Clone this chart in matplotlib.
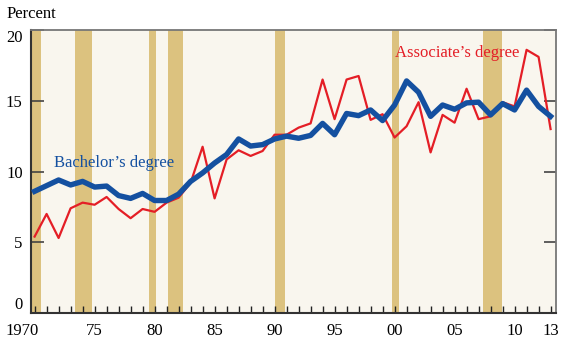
import matplotlib.pyplot as plt
from matplotlib.ticker import MultipleLocator
from matplotlib.transforms import ScaledTranslation

years = list(range(1970, 2014))

# Bachelor's degree (percent)
bachelors = [8.6, 9.0, 9.4, 9.05, 9.3, 8.9, 8.97, 8.3, 8.1, 8.45, 7.95,
             7.95, 8.4, 9.3, 9.9, 10.6, 11.2, 12.3, 11.8, 11.9, 12.3,
             12.5, 12.35, 12.55, 13.4, 12.6, 14.1, 13.95, 14.35, 13.6, 14.7,
             16.4, 15.6, 13.9, 14.7, 14.4, 14.85, 14.9, 14.0, 14.8, 14.35,
             15.75, 14.6, 13.9]

# Associate's degree (percent)
associates = [5.4, 7.0, 5.3, 7.4, 7.8, 7.65, 8.2, 7.35, 6.7, 7.35, 7.15,
              7.8, 8.15, 9.2, 11.75, 8.1, 10.85, 11.5, 11.1, 11.45, 12.6,
              12.6, 13.1, 13.4, 16.5, 13.7, 16.5, 16.75, 13.65, 14.05, 12.4,
              13.2, 14.9, 11.35, 14.0, 13.45, 15.85, 13.7, 13.9, 14.9, 14.6,
              18.6, 18.1, 13.0]

# shaded recession periods (start, end) as drawn
recessions = [(1969.6, 1970.5), (1973.4, 1974.8), (1979.5, 1980.13),
              (1981.1, 1982.36), (1990.07, 1990.83), (1999.78, 2000.39),
              (2007.37, 2008.99)]

xtick_pos = [1970, 1975, 1980, 1985, 1990, 1995, 2000, 2005, 2010, 2013]
xtick_lab = ["1970", "75", "80", "85", "90", "95", "00", "05", "10", "13"]
ytick_pos = [0, 5, 10, 15, 20]

plt.rcParams["font.family"] = ["Liberation Serif", "DejaVu Serif"]

fig = plt.figure(figsize=(5.7, 3.47), dpi=100)
ax = fig.add_axes([0.0544, 0.098, 0.921, 0.8155])
ax.set_facecolor("#f9f6ee")

for start, end in recessions:
    ax.axvspan(start, end, color="#dcc27f", lw=0, zorder=1)

ax.plot(years, associates, color="#e41e26", lw=1.6, zorder=3)
ax.plot(years, bachelors, color="#1450a0", lw=3.9, zorder=4)

ax.set_xlim(1969.7, 2013.45)
ax.set_ylim(0, 20)

ax.set_yticks(ytick_pos)
ax.set_yticklabels([str(v) for v in ytick_pos])
ax.set_xticks(xtick_pos)
ax.set_xticklabels(xtick_lab)
ax.xaxis.set_minor_locator(MultipleLocator(1))

ax.tick_params(axis="y", direction="in", length=9, width=1.2,
               color="#444444", labelsize=12, pad=6, right=True)
ax.tick_params(axis="x", which="both", direction="in", length=5, width=1,
               color="#222222", labelsize=12, pad=7)

# nudge end labels like the original
ylabels = ax.get_yticklabels()
ylabels[0].set_va("bottom")
ylabels[-1].set_va("top")
first = ax.get_xticklabels()[0]
first.set_transform(first.get_transform()
                    + ScaledTranslation(-9 / 72, 0, fig.dpi_scale_trans))

for side in ["left", "bottom"]:
    ax.spines[side].set_color("#333333")
    ax.spines[side].set_linewidth(1.5)
for side in ["top", "right"]:
    ax.spines[side].set_color("#777777")
    ax.spines[side].set_linewidth(1.3)

ax.text(1971.6, 10.6, "Bachelor\u2019s degree", color="#1450a0",
        fontsize=12, va="center", ha="left", zorder=5)
ax.text(2000.0, 18.4, "Associate\u2019s degree", color="#e41e26",
        fontsize=12, va="center", ha="left", zorder=5)

fig.text(0.012, 0.96, "Percent", fontsize=12, va="center", ha="left")

fig.savefig("out.png", dpi=100)
